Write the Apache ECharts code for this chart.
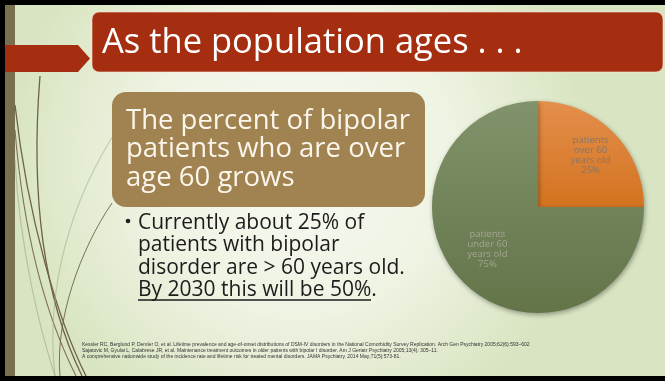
<!DOCTYPE html>
<html>
<head>
<meta charset="utf-8">
<script src="https://cdn.jsdelivr.net/npm/echarts@6/dist/echarts.min.js"></script>
<style>
html,body{margin:0;padding:0;background:#fff;}
#chart{width:665px;height:381px;}
</style>
</head>
<body>
<div id="chart"></div>
<script>
// ---- data ----
const categories = ['patients\nover 60\nyears old', 'patients\nunder 60\nyears old'];
const values = [25, 75];
const titleText = 'As the population ages . . .';
const boxLines = ['The percent of bipolar', 'patients who are over', 'age 60 grows'];
const bulletLines = ['Currently about 25% of', 'patients with bipolar', 'disorder are > 60 years old.'];
const underlinedLine = 'By 2030 this will be 50%.';
const footnotes = [
  'Kessler RC, Berglund P, Demler O, et al. Lifetime prevalence and age-of-onset distributions of DSM-IV disorders in the National Comorbidity Survey Replication. Arch Gen Psychiatry 2005;62(6):593\u2013602',
  'Sajatovic M, Gyulai L, Calabrese JR, et al. Maintenance treatment outcomes in older patients with bipolar I disorder. Am J Geriatr Psychiatry 2005;13(4): 305\u201311.',
  'A comprehensive nationwide study of the incidence rate and lifetime risk for treated mental disorders. JAMA Psychiatry. 2014 May;71(5):573-81.'
];

// ---- styles ----
const sliceColors = [
  {type:'linear',x:0,y:0,x2:0,y2:1,colorStops:[{offset:0,color:'#e48f4d'},{offset:1,color:'#d3731f'}]},
  {type:'linear',x:0,y:0,x2:0,y2:1,colorStops:[{offset:0,color:'#80936a'},{offset:1,color:'#637449'}]}
];
const labelColors = ['#85766a', '#a3a68f'];
const labelOffsets = [[13,-12],[-11,3]];
const FONT = '"Open Sans", "DejaVu Sans", sans-serif';

const chart = echarts.init(document.getElementById('chart'), null, {renderer:'canvas'});

const graphics = [];
// borders & strip
graphics.push({type:'rect', shape:{x:0,y:0,width:665,height:5}, style:{fill:'#000'}, z:10});
graphics.push({type:'rect', shape:{x:0,y:0,width:5,height:381}, style:{fill:'#000'}, z:10});
graphics.push({type:'rect', shape:{x:0,y:376,width:665,height:5}, style:{fill:'#000'}, z:10});
graphics.push({type:'rect', shape:{x:5,y:5,width:10,height:371}, style:{fill:'#786f4f'}, z:1});
// decorative curves
const curves = [
  {s:[40,76,30,200,45,300,82,376], c:'#6e6246', w:1.3},
  {s:[15,105,28,220,58,320,86,376], c:'#6e6246', w:1.3},
  {s:[15,130,24,240,48,320,76,376], c:'#7d7055', w:1.1},
  {s:[112,203,80,250,55,320,60,376], c:'#6e6246', w:0.9},
  {s:[120,125,70,200,45,290,55,376], c:'rgba(160,175,130,0.55)', w:1.2},
  {s:[15,160,20,250,40,330,55,376], c:'rgba(150,160,120,0.5)', w:1.2}
];
curves.forEach(cv => {
  const s = cv.s;
  graphics.push({type:'bezierCurve', shape:{x1:s[0],y1:s[1],cpx1:s[2],cpy1:s[3],cpx2:s[4],cpy2:s[5],x2:s[6],y2:s[7]},
    style:{stroke:cv.c, lineWidth:cv.w, fill:null}, z:2});
});
// title arrow and banner
graphics.push({type:'polygon', shape:{points:[[5,45],[78,45],[90,58.5],[78,72],[5,72]]}, style:{fill:'#a42e0f'}, z:3});
graphics.push({type:'rect', shape:{x:92,y:12,width:571,height:60,r:7}, style:{fill:'#a42e0f', stroke:'rgba(255,230,220,0.6)', lineWidth:1}, z:3});
graphics.push({type:'text', style:{x:102, y:43, text:titleText, fill:'#ffffff', font:'34.5px ' + FONT, verticalAlign:'middle'}, z:4});
// brown box
graphics.push({type:'rect', shape:{x:112,y:92,width:313,height:115,r:14}, style:{fill:'#a08350'}, z:3});
boxLines.forEach((t,i) => {
  graphics.push({type:'text', style:{x:126, y:121 + i*28.5, text:t, fill:'#fbf6ec', font:'27.5px ' + FONT, verticalAlign:'middle'}, z:4});
});
// bullet
graphics.push({type:'circle', shape:{cx:128, cy:221, r:2.3}, style:{fill:'#222'}, z:4});
bulletLines.forEach((t,i) => {
  graphics.push({type:'text', style:{x:138, y:223 + i*22.5, text:t, fill:'#1c1c1c', font:'21px ' + FONT, verticalAlign:'middle'}, z:4});
});
graphics.push({type:'text', style:{x:138, y:223 + 3*22.5, text:underlinedLine, fill:'#1c1c1c', font:'21px ' + FONT, verticalAlign:'middle'}, z:4});
graphics.push({type:'line', shape:{x1:138,y1:300,x2:371,y2:300}, style:{stroke:'#1c1c1c', lineWidth:1.5}, z:4});
// footnotes
footnotes.forEach((t,i) => {
  graphics.push({type:'text', style:{x:82, y:345 + i*6, text:t, fill:'#333', font:'5px "Liberation Sans", sans-serif', verticalAlign:'middle'}, z:4});
});

const option = {
  animation:false,
  backgroundColor:{type:'radial', x:0.45, y:0.42, r:0.75, colorStops:[{offset:0,color:'#f8faf2'},{offset:0.55,color:'#eef3e2'},{offset:1,color:'#d9e5c2'}]},
  graphic:{elements:graphics},
  series:[{
    type:'pie',
    center:[538,207],
    radius:106,
    startAngle:90,
    clockwise:true,
    z:5,
    itemStyle:{shadowBlur:5, shadowOffsetX:1, shadowOffsetY:2, shadowColor:'rgba(0,0,0,0.35)'},
    label:{show:true, position:'inside', fontSize:9.5, lineHeight:10, fontFamily:FONT,
      formatter: p => p.name + '\n' + p.value + '%'},
    labelLine:{show:false},
    emphasis:{disabled:true},
    data: categories.map((c,i) => ({name:c, value:values[i], itemStyle:{color:sliceColors[i]},
      label:{offset:labelOffsets[i], color:labelColors[i]}}))
  }]
};
chart.setOption(option);
</script>
</body>
</html>
